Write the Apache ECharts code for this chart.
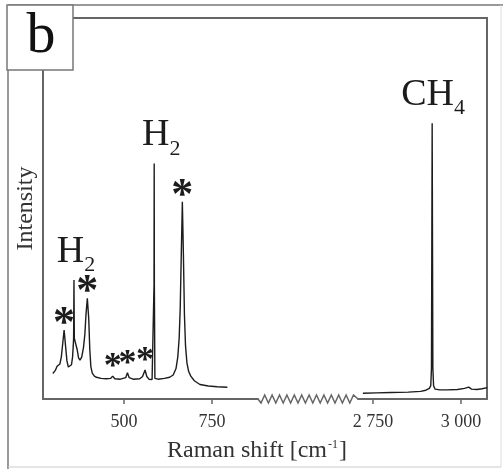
<!DOCTYPE html>
<html>
<head>
<meta charset="utf-8">
<script src="https://cdn.jsdelivr.net/npm/echarts@6/dist/echarts.min.js"></script>
<style>
  html, body { margin: 0; padding: 0; background: #fff; }
  #chart { width: 504px; height: 469px; }
</style>
</head>
<body>
<div id="chart"></div>
<script>
// low shift part of the spectrum (cm-1, intensity a.u.)
const lowShift = [298, 305, 310, 314, 318, 322, 326, 330, 334, 338, 342, 347, 351, 354, 356, 357, 358, 359, 361, 364, 367, 371, 375, 380, 385, 389, 392, 396, 400, 403, 406, 410, 416, 422, 435, 450, 462, 468, 474, 490, 505, 510, 515, 526, 545, 553, 560, 565, 571, 580, 584, 585.5, 586, 586.5, 588, 597, 615, 630, 640, 648, 653, 657, 660, 663, 666, 669, 672, 675, 679, 684, 690, 700, 716, 740, 765, 794];
const lowIntensity = [6.7, 7.5, 8.6, 8.4, 9.2, 11, 14.5, 18.1, 14, 10, 8.4, 8.0, 9.0, 11, 14, 16, 31.2, 16, 15.2, 15.0, 13, 10.8, 10.2, 11, 13.5, 17, 22, 26.4, 21, 13, 8.5, 6.8, 6.0, 5.7, 5.4, 5.3, 5.4, 6.0, 5.3, 5.2, 5.6, 6.9, 5.6, 5.2, 5.3, 5.9, 7.6, 5.9, 5.2, 5.1, 5.3, 30, 61.8, 30, 5.4, 5.2, 5.4, 5.7, 6.3, 8, 11, 16, 24, 38, 51.8, 38, 22, 14, 9.5, 7.2, 6.0, 4.8, 3.8, 3.4, 3.2, 3.1];

// high shift part (CH4 region)
const highShift = [2721, 2760, 2800, 2850, 2885, 2900, 2910, 2914, 2916, 2917, 2918, 2919, 2920, 2922, 2926, 2940, 2960, 2990, 3010, 3022, 3030, 3045, 3060, 3075];
const highIntensity = [1.5, 1.6, 1.7, 1.8, 2.0, 2.3, 2.8, 3.5, 8, 40, 72.4, 40, 8, 3.5, 2.6, 2.4, 2.4, 2.5, 2.8, 3.1, 2.6, 2.5, 2.7, 3.0];

const lowTicks = [500, 750];
const highTicks = [2750, 3000];

// peak annotations: [shift, intensity, text]
const lowPeakLabels = [[330, 18.1, '*'], [358, 31.2, 'H2'], [396, 26.4, '*'], [586, 61.8, 'H2'], [666, 51.8, '*']];
const smallStars = [[468, 6.0], [510, 6.9], [560, 7.6]];
const highPeakLabels = [[2918, 72.4, 'CH4']];

const serif = '"Liberation Serif", "DejaVu Serif", serif';
const frameColor = '#666';
const ink = '#1c1c1c';

const zip = (xs, ys) => xs.map((x, i) => [x, ys[i]]);

const molRich = {
  m: { fontFamily: serif, fontWeight: 'normal', fontSize: 38, color: ink, verticalAlign: 'bottom', padding: [0, 0, 6, 0] },
  s: { fontFamily: serif, fontWeight: 'normal', fontSize: 22, color: ink, verticalAlign: 'bottom' }
};

const peakMark = (item) => {
  const txt = item[2];
  const isStar = txt === '*';
  let formatter = '*';
  if (txt === 'H2') formatter = '{m|H}{s|2}';
  if (txt === 'CH4') formatter = '{m|CH}{s|4}';
  return {
    coord: [item[0], item[1]],
    label: {
      show: true,
      position: 'top',
      distance: isStar ? 0 : 3,
      formatter: formatter,
      fontFamily: serif,
      fontWeight: isStar ? 'bold' : 'normal',
      fontSize: isStar ? 44 : 38,
      color: ink,
      rich: molRich
    }
  };
};

const lowMarks = lowPeakLabels.map((p) => {
  let off = [0, 0];
  if (p[2] === 'H2' && p[0] < 400) off = [2, 0];
  if (p[2] === 'H2' && p[0] > 500) off = [7, 0];
  if (p[2] === '*') off = [0, 17];
  const m = peakMark(p);
  m.label.offset = off;
  return m;
}).concat(smallStars.map((p) => ({
  coord: p,
  label: {
    show: true, position: 'top', distance: 0, offset: [0, 10], formatter: '*',
    fontFamily: serif, fontWeight: 'bold', fontSize: 36, color: ink
  }
})));

const highMarks = highPeakLabels.map((p) => {
  const m = peakMark(p);
  m.label.offset = [1, 0];
  return m;
});

// zigzag for the axis break
const zig = [[258, 399]];
for (let x = 261, k = 0; x < 355; x += 3.7, k++) {
  zig.push([x, k % 2 === 0 ? 403 : 395]);
}
zig.push([358, 399]);

const chart = echarts.init(document.getElementById('chart'), null, { renderer: 'canvas' });

const xAxisBase = (grid, min, max, ticks) => ({
  type: 'value',
  gridIndex: grid,
  min: min,
  max: max,
  axisLine: { show: true, onZero: false, lineStyle: { color: frameColor, width: 2 } },
  axisTick: { show: true, customValues: ticks, length: 5, lineStyle: { color: frameColor, width: 1.5 } },
  axisLabel: {
    customValues: ticks,
    margin: 14,
    fontFamily: serif,
    fontSize: 18,
    color: '#333',
    formatter: (v) => (v >= 1000 ? String(v).replace(/^(\d)(\d{3})$/, '$1 $2') : String(v))
  },
  splitLine: { show: false }
});

const option = {
  animation: false,
  backgroundColor: '#fff',
  grid: [
    { left: 43, top: 18, width: 215, height: 381 },
    { left: 358, top: 18, width: 129, height: 381 }
  ],
  xAxis: [
    xAxisBase(0, 270, 881, lowTicks),
    xAxisBase(1, 2707, 3074, highTicks)
  ],
  yAxis: [
    {
      type: 'value', gridIndex: 0, min: 0, max: 100,
      axisLine: { show: true, lineStyle: { color: frameColor, width: 2 } },
      axisTick: { show: false }, axisLabel: { show: false }, splitLine: { show: false },
      name: 'Intensity', nameLocation: 'middle', nameGap: 5,
      nameTextStyle: { fontFamily: serif, fontSize: 24, color: '#333' }
    },
    {
      type: 'value', gridIndex: 1, min: 0, max: 100, position: 'right',
      axisLine: { show: true, lineStyle: { color: frameColor, width: 2 } },
      axisTick: { show: false }, axisLabel: { show: false }, splitLine: { show: false }
    }
  ],
  series: [
    {
      type: 'line', xAxisIndex: 0, yAxisIndex: 0,
      data: zip(lowShift, lowIntensity),
      showSymbol: false, lineStyle: { color: ink, width: 1.4 },
      markPoint: { symbol: 'circle', symbolSize: 1, itemStyle: { color: 'rgba(0,0,0,0)' }, data: lowMarks }
    },
    {
      type: 'line', xAxisIndex: 1, yAxisIndex: 1,
      data: zip(highShift, highIntensity),
      showSymbol: false, lineStyle: { color: ink, width: 1.4 },
      markPoint: { symbol: 'circle', symbolSize: 1, itemStyle: { color: 'rgba(0,0,0,0)' }, data: highMarks }
    }
  ],
  graphic: [
    // outer panel border
    { type: 'line', shape: { x1: 8, y1: 5, x2: 503, y2: 5 }, style: { stroke: '#777', lineWidth: 1.5 } },
    { type: 'line', shape: { x1: 8, y1: 5, x2: 8, y2: 469 }, style: { stroke: '#777', lineWidth: 1.5 } },
    { type: 'line', shape: { x1: 501, y1: 5, x2: 501, y2: 467 }, style: { stroke: '#ddd', lineWidth: 1 } },
    { type: 'line', shape: { x1: 8, y1: 467, x2: 501, y2: 467 }, style: { stroke: '#ccc', lineWidth: 1 } },
    // top frame of the plot
    { type: 'line', shape: { x1: 42, y1: 18, x2: 488, y2: 18 }, style: { stroke: frameColor, lineWidth: 2 } },
    // zigzag break
    { type: 'polyline', shape: { points: zig }, style: { stroke: frameColor, lineWidth: 1.5, fill: null } },
    // panel letter box
    { type: 'rect', shape: { x: 7, y: 5, width: 66, height: 65 }, style: { fill: '#fff', stroke: '#777', lineWidth: 1.5 }, z: 10 },
    {
      type: 'text', x: 41, y: 37, z: 11,
      style: { text: 'b', fontFamily: serif, fontSize: 58, fill: '#111', align: 'center', verticalAlign: 'middle' }
    },
    // x axis title spanning both parts
    {
      type: 'text', x: 257, y: 451,
      style: {
        text: 'Raman shift [cm{sup|-1}]',
        fontFamily: serif, fontSize: 24, fill: '#333',
        align: 'center', verticalAlign: 'middle',
        rich: { sup: { fontFamily: serif, fontSize: 12, fill: '#333', verticalAlign: 'top', padding: [0, 1, 10, 1] } }
      }
    }
  ]
};

chart.setOption(option);
</script>
</body>
</html>
